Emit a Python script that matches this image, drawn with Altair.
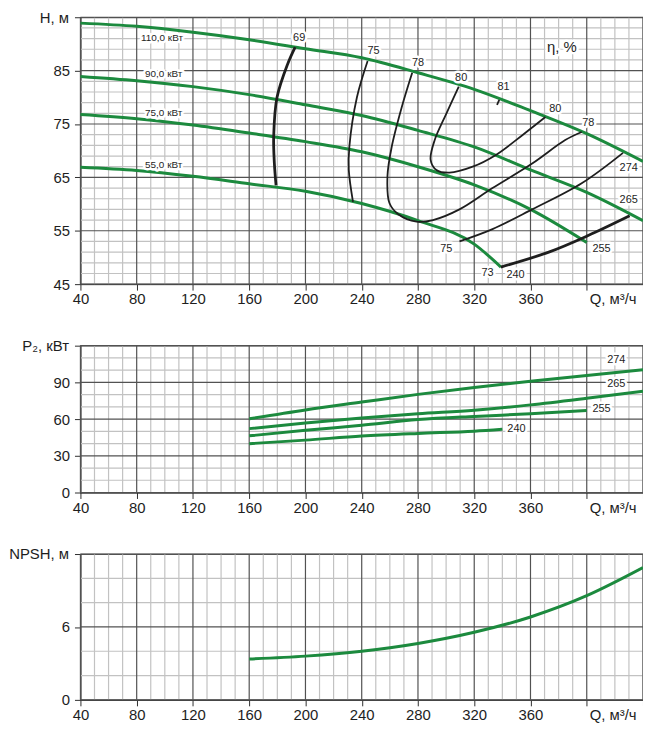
import altair as alt
import pandas as pd

GREEN = "#1c8a3e"
DARK = "#2e2e2e"
MAJOR = "#525252"
MINOR = "#c2c2c2"
INK = "#1e1e1e"
FONT = "Liberation Sans"

# ---- grid / tick values ----
Q_MAJOR = list(range(40, 441, 40))
Q_MINOR = [v for v in range(40, 441, 10) if v % 40]

H_MAJOR = [45, 55, 65, 75, 85, 95]
H_MINOR = [v for v in range(45, 96) if (v - 45) % 10 and v % 2 == 1]
P_MAJOR = [0, 30, 60, 90, 120]
P_MINOR = [v for v in range(0, 121, 10) if v % 30]
N_MAJOR = [0, 6, 12]
N_MINOR = [2, 4, 8, 10]

# ---- H(Q) curves ----
H110_Q = [40, 80, 120, 160, 200, 240, 280, 320, 360, 400, 440]
H110 = [93.9, 93.3, 92.2, 90.8, 89.1, 87.4, 84.6, 81.5, 77.5, 73.2, 68.0]
H90_Q = [40, 80, 120, 160, 200, 240, 280, 320, 360, 400, 440]
H90 = [83.9, 83.1, 82.0, 80.5, 78.6, 76.6, 73.8, 70.7, 66.4, 62.2, 56.9]
H75_Q = [40, 80, 120, 160, 200, 240, 280, 320, 360, 400]
H75 = [76.8, 76.0, 74.8, 73.3, 71.7, 69.8, 67.0, 63.6, 59.0, 52.8]
H55_Q = [40, 80, 120, 160, 200, 240, 280, 320, 339]
H55 = [66.9, 66.3, 65.2, 63.8, 62.4, 60.1, 56.9, 52.5, 48.2]

# ---- efficiency iso-lines ----
E69_Q = [192.7, 187.3, 179.8, 177.4, 177.9, 179.1]
E69_H = [89.4, 86.2, 80.0, 72.6, 67.6, 63.5]
E75_Q = [244.2, 236.6, 231.2, 230.8, 233.8]
E75_H = [86.8, 80.0, 70.7, 66.4, 60.4]
E78_Q = [275.9, 268.4, 261.3, 258.3, 259.7, 266.0, 279.0, 290.7, 309.5, 333.0, 361.2, 384.7, 396.4]
E78_H = [84.6, 78.1, 70.7, 65.2, 60.2, 58.1, 56.7, 57.0, 59.0, 63.0, 67.6, 72.0, 73.5]
E80_Q = [309.0, 300.1, 291.9, 289.0, 293.1, 302.4, 318.9, 335.4, 354.2, 370.6]
E80_H = [82.0, 76.9, 72.0, 68.3, 66.4, 65.9, 67.0, 69.2, 72.9, 76.3]
E75B_Q = [309.5, 333.0, 361.2, 396.4, 425.8]
E75B_H = [53.0, 55.3, 59.0, 63.9, 69.6]
E73_Q = [338.9, 373.0, 401.0, 430.5]
E73_H = [48.2, 51.0, 54.1, 57.8]
E81_Q = [336.2, 337.8]
E81_H = [78.6, 79.5]

H_LBL_T = ["69", "75", "78", "80", "81", "80", "78", "274", "265", "255", "75", "73", "240"]
H_LBL_Q = [195.5, 248.4, 280.1, 310.7, 340.8, 377.6, 401.1, 429.8, 429.8, 410.5, 300.1, 329.5, 349.4]
H_LBL_H = [91.2, 88.6, 86.4, 83.7, 81.9, 77.8, 75.2, 66.7, 60.7, 51.6, 51.6, 47.0, 46.7]
KW_T = ["110,0 кВт", "90,0 кВт", "75,0 кВт", "55,0 кВт"]
KW_Q = [98.0, 99.2, 99.2, 99.2]
KW_H = [91.2, 84.3, 77.0, 67.4]
ETA_T = ["η, %"]
ETA_Q = [382.3]
ETA_H = [89.4]

# ---- P2(Q) ----
P274_Q = [160, 200, 240, 280, 320, 360, 400, 440]
P274 = [60.2, 67.5, 73.9, 80.2, 85.8, 90.9, 95.7, 100.3]
P265_Q = [160, 200, 240, 280, 320, 360, 400, 440]
P265 = [52.2, 56.8, 60.8, 64.3, 67.3, 71.6, 77.0, 82.8]
P255_Q = [160, 200, 240, 280, 320, 360, 400]
P255 = [46.3, 50.8, 55.0, 59.6, 62.2, 64.3, 67.0]
P240_Q = [160, 200, 240, 280, 320, 340]
P240 = [39.9, 42.8, 46.1, 48.3, 50.1, 51.7]
P_LBL_T = ["274", "265", "255", "240"]
P_LBL_Q = [421.0, 421.0, 410.5, 350.0]
P_LBL_V = [108.3, 89.0, 68.0, 52.0]

# ---- NPSH(Q) ----
N_Q = [160, 200, 240, 280, 320, 360, 400, 440]
N_V = [3.36, 3.6, 4.0, 4.64, 5.56, 6.82, 8.57, 10.88]

W = 567


def curves(d):
    rows = []
    for name, (qs, vs) in d.items():
        for i, (q, v) in enumerate(zip(qs, vs)):
            rows.append({"c": name, "o": i, "q": q, "v": v})
    return pd.DataFrame(rows)


def labels(ts, qs, vs):
    return pd.DataFrame({"t": ts, "q": qs, "v": vs})


x_axis = alt.Axis(values=Q_MAJOR, title="Q, м³/ч", grid=False, tickSize=6, labelPadding=2,
                  labelFlush=False, labelOverlap=False,
                  labelExpr="datum.value > 360 ? '' : datum.label",
                  titleAlign="right", titleBaseline="top", titleX=W - 7, titleY=8)
X = alt.X("q:Q", scale=alt.Scale(domain=[40, 440], nice=False, zero=False), axis=x_axis)


def make_y(domain, major, title):
    ax = alt.Axis(values=major, title=title, grid=False, tickSize=6, labelPadding=5,
                  labelFlush=False, labelOverlap=False,
                  labelExpr=f"datum.value == {major[-1]} ? '' : datum.label",
                  titleAngle=0, titleAlign="right", titleBaseline="middle", titleX=-12, titleY=0)
    return alt.Y("v:Q", scale=alt.Scale(domain=domain, nice=False, zero=False), axis=ax)


def grid(Y, xmaj, xmin, ymaj, ymin):
    return [
        alt.Chart(pd.DataFrame({"q": xmin})).mark_rule(color=MINOR, strokeWidth=1.2).encode(x=X),
        alt.Chart(pd.DataFrame({"v": ymin})).mark_rule(color=MINOR, strokeWidth=1.2).encode(y=Y),
        alt.Chart(pd.DataFrame({"q": xmaj})).mark_rule(color=MAJOR, strokeWidth=1.2).encode(x=X),
        alt.Chart(pd.DataFrame({"v": ymaj})).mark_rule(color=MAJOR, strokeWidth=1.2).encode(y=Y),
    ]


def green(df, Y):
    return alt.Chart(df).mark_line(color=GREEN, strokeWidth=3, interpolate="monotone").encode(
        x=X, y=Y, detail="c:N", order="o:Q")


def text(df, Y, size, halo=True):
    out = []
    if halo:
        out.append(alt.Chart(df).mark_text(fontSize=size, color="white", stroke="white",
                                           strokeWidth=5, strokeJoin="round").encode(x=X, y=Y, text="t:N"))
    out.append(alt.Chart(df).mark_text(fontSize=size, color=INK).encode(x=X, y=Y, text="t:N"))
    return out


# ---------- panel 1: H ----------
YH = make_y([45, 95], H_MAJOR, "H, м")
h_green = curves({"110": (H110_Q, H110), "90": (H90_Q, H90), "75": (H75_Q, H75), "55": (H55_Q, H55)})
eff_thin = curves({"75": (E75_Q, E75_H), "78": (E78_Q, E78_H), "80": (E80_Q, E80_H),
                   "75b": (E75B_Q, E75B_H), "81": (E81_Q, E81_H)})
eff_thick = curves({"69": (E69_Q, E69_H), "73": (E73_Q, E73_H)})

p1 = alt.layer(
    *grid(YH, Q_MAJOR, Q_MINOR, H_MAJOR, H_MINOR),
    green(h_green, YH),
    alt.Chart(eff_thin).mark_line(color=INK, strokeWidth=1.8, interpolate="catmull-rom").encode(
        x=X, y=YH, detail="c:N", order="o:Q"),
    alt.Chart(eff_thick).mark_line(color=INK, strokeWidth=2.8, interpolate="catmull-rom").encode(
        x=X, y=YH, detail="c:N", order="o:Q"),
    *text(labels(H_LBL_T, H_LBL_Q, H_LBL_H), YH, 11),
    *text(labels(KW_T, KW_Q, KW_H), YH, 10),
    *text(labels(ETA_T, ETA_Q, ETA_H), YH, 15),
).properties(width=W, height=269)

# ---------- panel 2: P2 ----------
YP = make_y([0, 120], P_MAJOR, "P₂, кВт")
p_green = curves({"274": (P274_Q, P274), "265": (P265_Q, P265), "255": (P255_Q, P255), "240": (P240_Q, P240)})
p2 = alt.layer(
    *grid(YP, Q_MAJOR, Q_MINOR, P_MAJOR, P_MINOR),
    green(p_green, YP),
    *text(labels(P_LBL_T, P_LBL_Q, P_LBL_V), YP, 11),
).properties(width=W, height=148)

# ---------- panel 3: NPSH ----------
YN = make_y([0, 12], N_MAJOR, "NPSH, м")
n_green = curves({"npsh": (N_Q, N_V)})
p3 = alt.layer(
    *grid(YN, Q_MAJOR, Q_MINOR, N_MAJOR, N_MINOR),
    green(n_green, YN),
).properties(width=W, height=147)

chart = alt.vconcat(p1, p2, p3, spacing=30).properties(
    padding={"left": 0, "top": -1.5, "right": -7, "bottom": -2}
).configure(font=FONT).configure_view(stroke=MAJOR, strokeWidth=1.2).configure_axis(
    labelFontSize=15, titleFontSize=15, titleFontWeight="normal", labelColor=INK, titleColor=INK,
    domainColor=DARK, tickColor=DARK, labelFont=FONT, titleFont=FONT
)

chart.save("out.html", embed_options={"renderer": "svg", "actions": False})
